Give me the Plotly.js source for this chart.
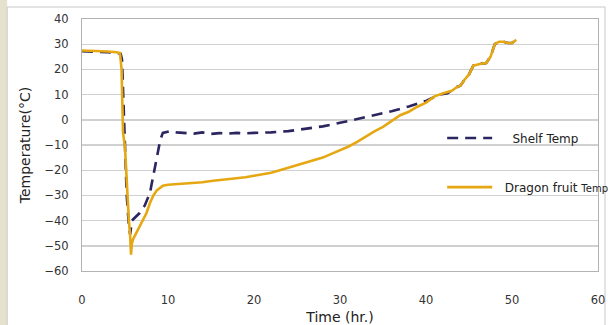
<!DOCTYPE html>
<html>
<head>
<meta charset="utf-8">
<script src="https://cdn.plot.ly/plotly-3.0.1.min.js"></script>
<style>html,body{margin:0;padding:0;background:#fff;}#chart{width:608px;height:325px;}</style>
</head>
<body>
<div id="chart"></div>
<script>
// Shelf temperature (dashed)
const shelfTime = [0,1,2,3,4,4.5,4.65,4.8,5.0,5.2,5.45,5.6,5.8,6.2,6.7,7.3,7.9,8.3,8.7,9.1,9.4,10.2,11,12,13,14,15,16,17,18,19,20,22,24,26,28,30,32,34,36,38,40,41.6,42.5,43.6,44,44.5,45,45.5,46,46.5,47,47.5,48,48.5,49,49.5,50,50.5];
const shelfTemp = [27.2,27.1,27,26.8,26.5,26.2,24,8,-10,-30,-42,-45.5,-40,-38.5,-37,-34,-29,-22,-15,-8,-5.2,-4.5,-5,-5.2,-5.5,-5,-5.6,-5.3,-5.5,-5.2,-5.4,-5.2,-5,-4.5,-3.6,-2.6,-1.2,0.3,1.8,3.4,5.3,7.5,10,10.5,13,13.5,16,18,21.5,22,22.3,22.5,25,30,31,31,30.5,30.5,31.7];
// Dragon fruit temperature (solid)
const fruitTime = [0,1,2,3,4,4.42,4.6,4.77,5.0,5.23,5.45,5.6,5.7,5.8,5.93,6.3,6.7,7.1,7.5,7.9,8.3,8.7,9.1,9.4,10,11,12,13,14,15,16,17,18,19,20,21,22,23,24,25,26,27,28,29,30,31,32,33,34,35,36,37,38,39,40,41,42,43,43.6,44,44.5,45,45.5,46,46.5,47,47.5,48,48.5,49,49.5,50,50.5];
const fruitTemp = [27.5,27.4,27.3,27.1,26.8,26.5,20,-5,-11,-28,-40,-46,-53.5,-49,-47.5,-45,-42.5,-40,-37,-33,-30,-28,-26.8,-26.2,-25.8,-25.6,-25.2,-25,-24.8,-24.3,-24,-23.4,-23.3,-22.8,-22.2,-21.6,-21,-20,-19,-18.2,-17.2,-16,-15,-13.5,-12.2,-10.6,-8.8,-6.6,-4.6,-2.8,-0.5,1.8,3.2,5.2,6.8,9.3,10.5,11.5,13,13.5,16,18,21.5,22,22.3,22.5,25,30,31,31,30.5,30.5,31.7];
const xTicks = [0,10,20,30,40,50,60];
const yTicks = [-60,-50,-40,-30,-20,-10,0,10,20,30,40];

const FONT = 'DejaVu Sans, Verdana, sans-serif';
const NB = '\u00a0';
const traces = [
  {x: shelfTime, y: shelfTemp, mode: 'lines', name: NB.repeat(4) + 'Shelf Temp', legend: 'legend',
   line: {color: '#2b2560', width: 2.6, dash: '11px,7px'}},
  {x: fruitTime, y: fruitTemp, mode: 'lines', name: NB.repeat(2) + 'Dragon fruit <span style="font-size:10px">Temp</span>', legend: 'legend2',
   line: {color: '#e5a812', width: 2.6}}
];
const layout = {
  width: 608, height: 325,
  margin: {l: 82, r: 10, t: 19, b: 54, autoexpand: false},
  paper_bgcolor: '#ffffff', plot_bgcolor: '#ffffff',
  font: {family: FONT, color: '#333333', size: 11},
  showlegend: true,
  xaxis: {range: [0, 60], tickvals: xTicks, showgrid: false, zeroline: false,
    showline: true, linecolor: '#b3b3b3', linewidth: 1, mirror: true, ticks: '',
    ticklabelstandoff: 18, tickfont: {size: 11.5, color: '#333'},
    title: {text: 'Time (hr.)', font: {size: 14, color: '#222'}, standoff: 6}},
  yaxis: {range: [-60, 40], tickvals: yTicks, gridcolor: '#d0d0d0', gridwidth: 1.4, zeroline: false,
    showline: true, linecolor: '#b3b3b3', linewidth: 1, mirror: true, ticks: '',
    ticklabelstandoff: 10, tickfont: {size: 11.5, color: '#333'},
    title: {text: 'Temperature(°C)', font: {size: 14, color: '#222'}, standoff: 10}},
  legend: {x: 0.698, y: 0.528, xanchor: 'left', yanchor: 'middle', bgcolor: 'rgba(0,0,0,0)',
    itemwidth: 45, font: {size: 12, color: '#222'}},
  legend2: {x: 0.698, y: 0.333, xanchor: 'left', yanchor: 'middle', bgcolor: 'rgba(0,0,0,0)',
    itemwidth: 45, font: {size: 12, color: '#222'}},
  shapes: [
    {type: 'rect', xref: 'paper', yref: 'paper', x0: 0.797, x1: 1.0, y0: 0.29, y1: 0.595,
     fillcolor: '#ffffff', line: {width: 0}, layer: 'between'},
    {type: 'rect', xref: 'paper', yref: 'paper', x0: -0.16, x1: -0.145, y0: -0.22, y1: 1.08,
     fillcolor: '#e6e1cc', line: {width: 0}, layer: 'below'},
    {type: 'rect', xref: 'paper', yref: 'paper', x0: -0.145, x1: 1.0136, y0: -0.3, y1: 1.0476,
     fillcolor: 'rgba(0,0,0,0)', line: {width: 1, color: '#c8c8c8'}, layer: 'below'}
  ]
};
Plotly.newPlot('chart', traces, layout, {displayModeBar: false, staticPlot: true});
</script>
</body>
</html>
